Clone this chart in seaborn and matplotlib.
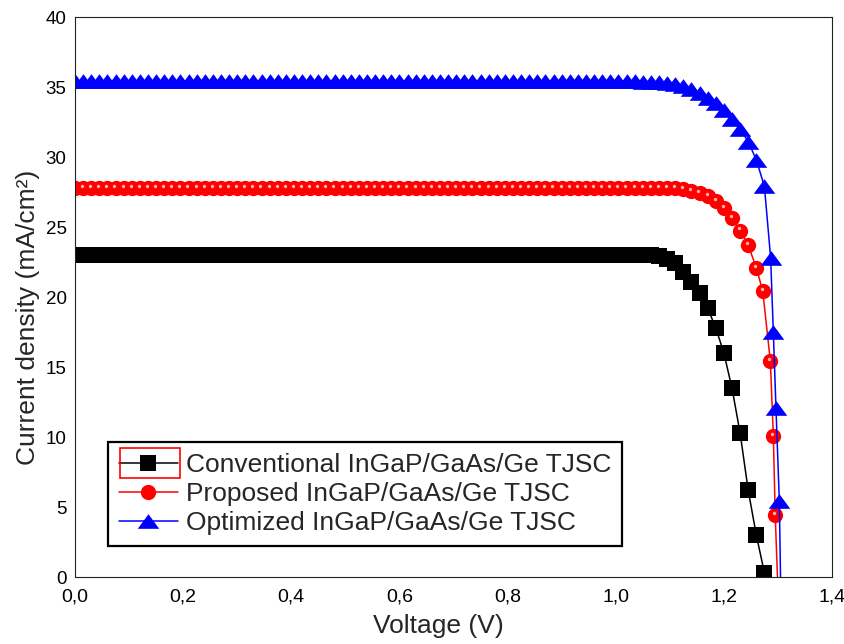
import numpy as np
import pandas as pd
import matplotlib
matplotlib.use("Agg")
import matplotlib.pyplot as plt
import seaborn as sns
from matplotlib.patches import Rectangle

# ---------------- data ----------------
voltage_grid = [
    0.000, 0.015, 0.030, 0.045, 0.060, 0.075, 0.090, 0.105, 0.120, 0.135,
    0.150, 0.165, 0.180, 0.195, 0.210, 0.225, 0.240, 0.255, 0.270, 0.285,
    0.300, 0.315, 0.330, 0.345, 0.360, 0.375, 0.390, 0.405, 0.420, 0.435,
    0.450, 0.465, 0.480, 0.495, 0.510, 0.525, 0.540, 0.555, 0.570, 0.585,
    0.600, 0.615, 0.630, 0.645, 0.660, 0.675, 0.690, 0.705, 0.720, 0.735,
    0.750, 0.765, 0.780, 0.795, 0.810, 0.825, 0.840, 0.855, 0.870, 0.885,
    0.900, 0.915, 0.930, 0.945, 0.960, 0.975, 0.990, 1.005, 1.020, 1.035,
    1.050, 1.065, 1.080, 1.095, 1.110, 1.125, 1.140, 1.155, 1.170, 1.185,
    1.200, 1.215, 1.230, 1.245, 1.260,
]

conventional_j = [
    23.0, 23.0, 23.0, 23.0, 23.0, 23.0, 23.0, 23.0, 23.0, 23.0,
    23.0, 23.0, 23.0, 23.0, 23.0, 23.0, 23.0, 23.0, 23.0, 23.0,
    23.0, 23.0, 23.0, 23.0, 23.0, 23.0, 23.0, 23.0, 23.0, 23.0,
    23.0, 23.0, 23.0, 23.0, 23.0, 23.0, 23.0, 23.0, 23.0, 23.0,
    23.0, 23.0, 23.0, 23.0, 23.0, 23.0, 23.0, 23.0, 23.0, 23.0,
    23.0, 23.0, 23.0, 23.0, 23.0, 23.0, 23.0, 23.0, 23.0, 23.0,
    23.0, 23.0, 23.0, 23.0, 23.0, 23.0, 23.0, 23.0, 23.0, 23.0,
    23.0, 22.98, 22.93, 22.75, 22.4, 21.8, 21.1, 20.3, 19.2, 17.8,
    16.0, 13.5, 10.3, 6.2, 3.0,
]
conventional_tail_v = [1.275]
conventional_tail_j = [0.3]

proposed_j = [
    27.8, 27.8, 27.8, 27.8, 27.8, 27.8, 27.8, 27.8, 27.8, 27.8,
    27.8, 27.8, 27.8, 27.8, 27.8, 27.8, 27.8, 27.8, 27.8, 27.8,
    27.8, 27.8, 27.8, 27.8, 27.8, 27.8, 27.8, 27.8, 27.8, 27.8,
    27.8, 27.8, 27.8, 27.8, 27.8, 27.8, 27.8, 27.8, 27.8, 27.8,
    27.8, 27.8, 27.8, 27.8, 27.8, 27.8, 27.8, 27.8, 27.8, 27.8,
    27.8, 27.8, 27.8, 27.8, 27.8, 27.8, 27.8, 27.8, 27.8, 27.8,
    27.8, 27.8, 27.8, 27.8, 27.8, 27.8, 27.8, 27.8, 27.8, 27.8,
    27.8, 27.8, 27.79, 27.78, 27.76, 27.7, 27.6, 27.45, 27.2, 26.85,
    26.35, 25.65, 24.75, 23.7, 22.1,
]
proposed_tail_v = [1.272, 1.286, 1.2915, 1.295, 1.302]
proposed_tail_j = [20.4, 15.4, 10.1, 4.4, -3.0]

optimized_j = [
    35.4, 35.4, 35.4, 35.4, 35.4, 35.4, 35.4, 35.4, 35.4, 35.4,
    35.4, 35.4, 35.4, 35.4, 35.4, 35.4, 35.4, 35.4, 35.4, 35.4,
    35.4, 35.4, 35.4, 35.4, 35.4, 35.4, 35.4, 35.4, 35.4, 35.4,
    35.4, 35.4, 35.4, 35.4, 35.4, 35.4, 35.4, 35.4, 35.4, 35.4,
    35.4, 35.4, 35.4, 35.4, 35.4, 35.4, 35.4, 35.4, 35.4, 35.4,
    35.4, 35.4, 35.4, 35.4, 35.4, 35.4, 35.4, 35.4, 35.4, 35.4,
    35.4, 35.4, 35.4, 35.4, 35.4, 35.4, 35.4, 35.4, 35.4, 35.4,
    35.39, 35.37, 35.33, 35.27, 35.18, 35.05, 34.85, 34.6, 34.25, 33.85,
    33.35, 32.75, 32.0, 31.1, 29.8,
]
optimized_tail_v = [1.275, 1.2865, 1.2915, 1.2964, 1.3026, 1.306]
optimized_tail_j = [27.9, 22.8, 17.5, 12.05, 5.4, -3.0]

series_labels = [
    "Conventional InGaP/GaAs/Ge TJSC",
    "Proposed InGaP/GaAs/Ge TJSC",
    "Optimized InGaP/GaAs/Ge TJSC",
]

x_ticks = [0.0, 0.2, 0.4, 0.6, 0.8, 1.0, 1.2, 1.4]
x_tick_labels = ["0,0", "0,2", "0,4", "0,6", "0,8", "1,0", "1,2", "1,4"]
y_ticks = [0, 5, 10, 15, 20, 25, 30, 35, 40]
y_tick_labels = ["0", "5", "10", "15", "20", "25", "30", "35", "40"]

# ---------------- style ----------------
sns.set_style("white", rc={
    "axes.edgecolor": "#222222",
    "axes.linewidth": 1.6,
    "xtick.bottom": False,
    "ytick.left": False,
})
plt.rcParams["font.family"] = ["Liberation Sans", "DejaVu Sans"]

fig = plt.figure(figsize=(8.44, 6.44), dpi=100)
ax = fig.add_axes([75 / 844, 1 - 577 / 644, (832 - 75) / 844, (577 - 17) / 644])

conv_v = np.array(voltage_grid + conventional_tail_v)
conv_j = np.array(conventional_j + conventional_tail_j)
prop_v = np.array(voltage_grid + proposed_tail_v)
prop_j = np.array(proposed_j + proposed_tail_j)
opt_v = np.array(voltage_grid + optimized_tail_v)
opt_j = np.array(optimized_j + optimized_tail_j)

tri = [(0.0, 0.68), (-1.0, -0.68), (1.0, -0.68), (0.0, 0.68)]

sns.lineplot(x=conv_v, y=conv_j, ax=ax, color="black", marker="s",
             markersize=11, markeredgewidth=0, linewidth=1.1,
             sort=False, estimator=None, label=series_labels[0], zorder=2)
sns.lineplot(x=prop_v, y=prop_j, ax=ax, color="#ff0000", marker="o",
             markersize=11, markeredgewidth=0, linewidth=1.1,
             sort=False, estimator=None, label=series_labels[1], zorder=2.2)
sns.scatterplot(x=prop_v - 0.002, y=prop_j + 0.15, ax=ax, color="#ffb0b0",
                s=6, linewidth=0, zorder=2.3, legend=False)
sns.lineplot(x=opt_v, y=opt_j, ax=ax, color="#0000ff", marker=tri,
             markersize=15.5, markeredgewidth=0, linewidth=1.1,
             sort=False, estimator=None, label=series_labels[2], zorder=2.5)

ax.set_xlim(0, 1.4)
ax.set_ylim(0, 40)
ax.set_xticks(x_ticks)
ax.set_xticklabels(x_tick_labels, fontsize=14)
ax.set_yticks(y_ticks)
ax.set_yticklabels(y_tick_labels, fontsize=13.5)
ax.tick_params(axis="x", pad=8, colors="black", length=0)
ax.tick_params(axis="y", pad=6, colors="black", length=0)

ax.set_xlabel("Voltage (V)", fontsize=19)
ax.xaxis.set_label_coords((438 - 75) / 757, (577 - 614) / 560)
ax.set_ylabel("Current density (mA/cm²)", fontsize=19)
ax.yaxis.set_label_coords((40 - 75) / 757, (577 - 317) / 560)

leg = ax.legend(loc="lower left", bbox_to_anchor=(0.0436, 0.0554),
                borderaxespad=0, frameon=True, fancybox=False,
                edgecolor="black", framealpha=1, fontsize=19,
                handlelength=2.25, handletextpad=0.3, labelspacing=0.2,
                borderpad=0.4)
leg.get_frame().set_linewidth(1.6)

# red selection box around the first legend handle (line extent)
fig.canvas.draw()
h0 = leg.legend_handles[0]
pts = h0.get_transform().transform(np.column_stack([h0.get_xdata(), h0.get_ydata()]))
lx0, lx1 = pts[:, 0].min(), pts[:, 0].max()
cy = pts[:, 1].mean()
inv = fig.transFigure.inverted()
(fx0, fy0) = inv.transform((lx0 + 1, cy - 15))
(fx1, fy1) = inv.transform((lx1 + 2, cy + 15))
fig.add_artist(Rectangle((fx0, fy0), fx1 - fx0, fy1 - fy0, transform=fig.transFigure,
                         fill=False, edgecolor="#ff0000", linewidth=1.2, zorder=10))

fig.savefig("out.png", dpi=100)
